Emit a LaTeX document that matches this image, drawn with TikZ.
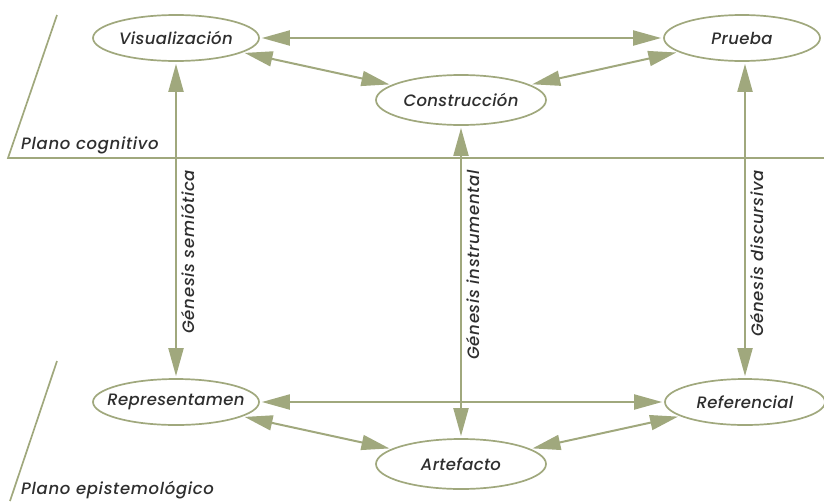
\documentclass[tikz,border=0pt]{standalone}
\usepackage{fontspec}
\setmainfont{Poppins}[ItalicFont=Poppins Medium Italic]
\usetikzlibrary{arrows.meta,calc,positioning,shapes.geometric}
\definecolor{olive}{HTML}{A0A87D}
\definecolor{ink}{HTML}{2E2E2E}
\newcommand{\ctag}[1]{\makebox[0pt]{#1}}

\begin{document}
\begin{tikzpicture}[
  x=1pt,
  y=-1pt,
  >={Triangle[length=28pt,width=15pt]},
  conceptnode/.style={
    ellipse,
    draw=olive,
    fill=white,
    line width=1.7pt,
    minimum width=166pt,
    minimum height=46pt,
    inner sep=0pt,
    font=\fontsize{16.5}{19}\selectfont\itshape\addfontfeature{LetterSpace=2},
    text=ink
  },
  link/.style={
    <->,
    olive,
    line width=2pt,
    shorten <=2pt,
    shorten >=2pt
  },
  planeline/.style={
    olive,
    line width=1.7pt
  },
  genlabel/.style={
    rotate=90,
    anchor=north east,
    font=\fontsize{16.5}{19}\selectfont\itshape\addfontfeature{LetterSpace=4},
    text=ink,
    inner sep=2pt
  },
  planelabel/.style={
    anchor=south west,
    font=\fontsize{16.5}{19}\selectfont\itshape\addfontfeature{LetterSpace=4},
    text=ink,
    inner sep=1pt
  }
]
\useasboundingbox (0,0) rectangle (824,501);

\draw[planeline] (57,15) -- (8,158) -- (824,158);
\draw[planeline] (57,361) -- (10,501);
\node[planelabel] (cogtext) at (20,155) {Plano cognitivo};
\node[planelabel] (epitext) at (20,500) {Plano epistemológico};

\node[conceptnode] (visual) at (176,38) {\ctag{Visualización}};
\node[conceptnode, minimum width=156pt] (prueba) at (742,38) {\ctag{Prueba}};
\node[conceptnode, minimum width=170pt, minimum height=50pt] (constr) at (461,100) {\ctag{Construcción}};

\node[conceptnode] (repres) at (176,402) {\ctag{Representamen}};
\node[conceptnode, minimum width=160pt] (refer) at (745,402) {\ctag{Referencial}};
\node[conceptnode, minimum width=170pt, minimum height=50pt] (artef) at (461,464) {\ctag{Artefacto}};

\draw[link] (visual) -- (prueba);
\draw[link] (visual) -- (constr);
\draw[link] (constr) -- (prueba);

\draw[link] (repres) -- (refer);
\draw[link] (repres) -- (artef);
\draw[link] (artef) -- (refer);

\draw[link] (visual.south) -- (repres.north);
\draw[link] (constr.south) -- (artef.north);
\draw[link] (prueba.south -| refer.north) -- (refer.north);

\node[genlabel] (semio) at (179,168) {Génesis semiótica};
\node[genlabel] (instr) at (464,168) {Génesis instrumental};
\node[genlabel] (discu) at (748,168) {Génesis discursiva};

\end{tikzpicture}
\end{document}
